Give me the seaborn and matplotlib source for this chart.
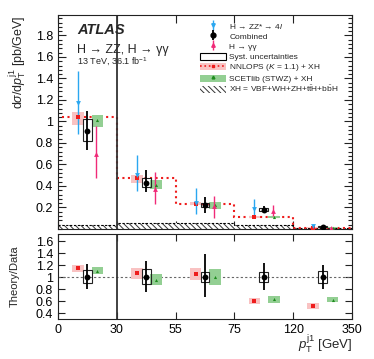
import numpy as np
import pandas as pd
import matplotlib
matplotlib.use("Agg")
import matplotlib.pyplot as plt
from matplotlib.lines import Line2D
from matplotlib.patches import Patch, Rectangle
from matplotlib.legend_handler import HandlerPatch
from matplotlib.ticker import MultipleLocator, FormatStrFormatter
import seaborn as sns

# bins (drawn with equal width)
bin_edges_label = ["0", "30", "55", "75", "120", "350"]

# main panel: dsigma/dpT [pb/GeV]
comb_val = [0.91, 0.43, 0.22, 0.18, 0.02]
comb_lo = [0.73, 0.34, 0.15, 0.15, 0.012]
comb_hi = [1.10, 0.55, 0.30, 0.21, 0.03]
comb_syst_lo = [0.82, 0.39, 0.20, 0.17, 0.015]
comb_syst_hi = [1.02, 0.47, 0.245, 0.195, 0.025]

zz_val = [1.17, 0.50, 0.24, 0.19, 0.03]
zz_lo = [0.88, 0.35, 0.14, 0.12, 0.015]
zz_hi = [1.47, 0.69, 0.38, 0.28, 0.04]

yy_val = [0.70, 0.37, 0.21, 0.165, 0.012]
yy_lo = [0.47, 0.23, 0.10, 0.12, 0.004]
yy_hi = [0.96, 0.53, 0.31, 0.22, 0.02]

nnlops_val = [1.04, 0.47, 0.235, 0.11, 0.01]
nnlops_lo = [0.97, 0.43, 0.22, 0.10, 0.005]
nnlops_hi = [1.09, 0.50, 0.25, 0.12, 0.015]

scet_val = [1.01, 0.41, 0.22, 0.11, 0.012]
scet_lo = [0.95, 0.37, 0.19, 0.10, 0.008]
scet_hi = [1.06, 0.46, 0.25, 0.125, 0.016]

xh_val = [0.035, 0.06, 0.055, 0.036, 0.008]

# ratio panel: theory / data
r_comb_lo = [0.80, 0.75, 0.66, 0.78, 0.80]
r_comb_hi = [1.22, 1.27, 1.38, 1.23, 1.21]
r_syst_lo = [0.90, 0.88, 0.91, 0.92, 0.90]
r_syst_hi = [1.12, 1.14, 1.09, 1.08, 1.10]
r_nnlops_val = [1.145, 1.07, 1.06, 0.60, 0.52]
r_nnlops_lo = [1.08, 0.97, 0.95, 0.55, 0.47]
r_nnlops_hi = [1.21, 1.16, 1.16, 0.65, 0.57]
r_scet_val = [1.105, 0.95, 1.00, 0.63, 0.62]
r_scet_lo = [1.05, 0.86, 0.86, 0.57, 0.58]
r_scet_hi = [1.17, 1.05, 1.14, 0.69, 0.66]

C_ZZ = "#2aa7f0"
C_YY = "#f02a78"
C_RED = "#ee1c1c"
C_REDBOX = "#f9c2c2"
C_GRN = "#1e8c1e"
C_GRNBOX = "#93cf93"

sns.set_style("ticks")
plt.rcParams["font.family"] = ["Liberation Sans", "DejaVu Sans"]
plt.rcParams["mathtext.fontset"] = "custom"
plt.rcParams["mathtext.rm"] = "Liberation Sans"
plt.rcParams["mathtext.it"] = "Liberation Sans:italic"
plt.rcParams["hatch.linewidth"] = 0.7

nb = len(comb_val)
centers = np.arange(nb) + 0.5
edges = np.arange(nb + 1)
off_l, off_r, off_g = -0.16, 0.15, 0.17

df = pd.DataFrame({
    "x": centers, "comb": comb_val, "zz": zz_val, "yy": yy_val,
    "nnlops": nnlops_val, "scet": scet_val,
    "r_nnlops": r_nnlops_val, "r_scet": r_scet_val,
})

fig = plt.figure(figsize=(3.74, 3.59), dpi=100)
W, H = 374, 359
ax1 = fig.add_axes([58 / W, 1 - 229 / H, 294 / W, 214 / H])
ax2 = fig.add_axes([58 / W, 1 - 319 / H, 294 / W, 85 / H])

# ---------------- main panel ----------------
ax1.bar(centers, xh_val, width=1, color="white", edgecolor="#333333",
        hatch="\\\\\\\\\\\\", linewidth=0, zorder=1)
ax1.stairs(xh_val, edges, color="black", ls=(0, (2, 1.5)), lw=0.8, zorder=2)
ax1.stairs(nnlops_val, edges, color=C_RED, ls=":", lw=1.5, zorder=2)

box_w = 0.2
ax1.bar(centers + off_l, np.subtract(nnlops_hi, nnlops_lo), bottom=nnlops_lo,
        width=box_w, color=C_REDBOX, lw=0, zorder=3)
ax1.bar(centers + off_g, np.subtract(scet_hi, scet_lo), bottom=scet_lo,
        width=box_w, color=C_GRNBOX, lw=0, zorder=3)
ax1.bar(centers, np.subtract(comb_syst_hi, comb_syst_lo), bottom=comb_syst_lo,
        width=0.15, facecolor="none", edgecolor="#222222", lw=0.8, zorder=5)

ax1.errorbar(centers + off_l, zz_val,
             yerr=[np.subtract(zz_val, zz_lo), np.subtract(zz_hi, zz_val)],
             fmt="none", ecolor=C_ZZ, elinewidth=1.0, zorder=4)
ax1.errorbar(centers + off_r, yy_val,
             yerr=[np.subtract(yy_val, yy_lo), np.subtract(yy_hi, yy_val)],
             fmt="none", ecolor=C_YY, elinewidth=1.0, zorder=4)
ax1.errorbar(centers, comb_val,
             yerr=[np.subtract(comb_val, comb_lo), np.subtract(comb_hi, comb_val)],
             fmt="none", ecolor="black", elinewidth=1.3, zorder=6)

sns.scatterplot(x=df["x"] + off_l, y=df["nnlops"], marker="s", s=6, color=C_RED,
                linewidth=0, ax=ax1, zorder=4, legend=False)
sns.scatterplot(x=df["x"] + off_g, y=df["scet"], marker="^", s=5, color=C_GRN,
                linewidth=0, ax=ax1, zorder=4, legend=False)
sns.scatterplot(x=df["x"] + off_l, y=df["zz"], marker="v", s=12, color=C_ZZ,
                linewidth=0, ax=ax1, zorder=5, legend=False)
sns.scatterplot(x=df["x"] + off_r, y=df["yy"], marker="^", s=12, color=C_YY,
                linewidth=0, ax=ax1, zorder=5, legend=False)
sns.scatterplot(x=df["x"], y=df["comb"], marker="o", s=18, color="black",
                linewidth=0, ax=ax1, zorder=7, legend=False)

ax1.axvline(1, color="#333333", lw=1.3, zorder=2)
ax1.set_xlim(0, nb)
ax1.set_ylim(0, 1.99)
ax1.set_xticks(edges)
ax1.set_xticklabels([])
ax1.yaxis.set_minor_locator(MultipleLocator(0.04))
ax1.set_yticks([0.2, 0.4, 0.6, 0.8, 1.0, 1.2, 1.4, 1.6, 1.8])
ax1.yaxis.set_major_formatter(FormatStrFormatter("%g"))
ax1.set_xlabel("")
ax1.set_ylabel(r"d$\sigma$/d$p_{\mathrm{T}}^{\mathrm{j1}}$ [pb/GeV]", fontsize=9, loc="top")
ax1.yaxis.set_label_coords(-0.10, 1.0)

ax1.text(0.065, 0.93, "ATLAS", transform=ax1.transAxes, fontsize=10.5,
         fontweight="bold", fontstyle="italic", va="center")
ax1.text(0.065, 0.836, "H → ZZ, H → γγ",
         transform=ax1.transAxes, fontsize=9, va="center")
ax1.text(0.065, 0.78, r"13 TeV, 36.1 fb$^{-1}$", transform=ax1.transAxes,
         fontsize=6.5, va="center")


def small_box(legend, orig_handle, xdescent, ydescent, width, height, fontsize):
    # legend boxes a bit shorter than the row
    return Rectangle((-xdescent, -ydescent + 0.17 * height), width, 0.66 * height)


h_zz = (Line2D([], [], color=C_ZZ, marker="|", ms=7, ls="none", mew=1),
        Line2D([], [], color=C_ZZ, marker="v", ms=2.5, ls="none"))
h_comb = (Line2D([], [], color="black", marker="|", ms=7, ls="none", mew=1.3),
          Line2D([], [], color="black", marker="o", ms=3.5, ls="none"))
h_yy = (Line2D([], [], color=C_YY, marker="|", ms=7, ls="none", mew=1),
        Line2D([], [], color=C_YY, marker="^", ms=2.5, ls="none"))
h_syst = Patch(facecolor="white", edgecolor="black", lw=0.8)
h_nnlops = (Patch(facecolor=C_REDBOX, lw=0),
            Line2D([], [], color=C_RED, ls=":", lw=1.2),
            Line2D([], [], color=C_RED, marker="s", ms=2, ls="none"))
h_scet = (Patch(facecolor=C_GRNBOX, lw=0),
          Line2D([], [], color=C_GRN, marker="^", ms=2, ls="none"))
h_xh = Patch(facecolor="white", edgecolor="#333333", hatch="\\\\\\\\\\\\", lw=0)
labels = ["H → ZZ* → 4$l$", "Combined", "H → γγ", "Syst. uncertainties",
          r"NNLOPS ($K$ = 1.1) + XH", "SCETlib (STWZ) + XH",
          r"XH = VBF+WH+ZH+t$\bar{\mathrm{t}}$H+b$\bar{\mathrm{b}}$H"]
ax1.legend([h_zz, h_comb, h_yy, h_syst, h_nnlops, h_scet, h_xh], labels,
           loc="upper left", bbox_to_anchor=(0.482, 0.972), frameon=False,
           fontsize=6, labelspacing=0.0, handlelength=3.1, handleheight=1.5,
           handletextpad=0.45, borderaxespad=0, borderpad=0,
           handler_map={Patch: HandlerPatch(patch_func=small_box)})

# ---------------- ratio panel ----------------
ax2.axhline(1, color="#666666", ls=(0, (2, 2)), lw=0.8, zorder=1)
ax2.bar(centers + off_l, np.subtract(r_nnlops_hi, r_nnlops_lo), bottom=r_nnlops_lo,
        width=box_w, color=C_REDBOX, lw=0, zorder=3)
ax2.bar(centers + off_g, np.subtract(r_scet_hi, r_scet_lo), bottom=r_scet_lo,
        width=box_w, color=C_GRNBOX, lw=0, zorder=3)
ax2.bar(centers, np.subtract(r_syst_hi, r_syst_lo), bottom=r_syst_lo,
        width=0.15, facecolor="none", edgecolor="#222222", lw=0.8, zorder=5)
ax2.errorbar(centers, np.ones(nb),
             yerr=[1 - np.array(r_comb_lo), np.array(r_comb_hi) - 1],
             fmt="none", ecolor="black", elinewidth=1.3, zorder=6)
sns.scatterplot(x=df["x"] + off_l, y=df["r_nnlops"], marker="s", s=6, color=C_RED,
                linewidth=0, ax=ax2, zorder=4, legend=False)
sns.scatterplot(x=df["x"] + off_g, y=df["r_scet"], marker="^", s=5, color=C_GRN,
                linewidth=0, ax=ax2, zorder=4, legend=False)
sns.scatterplot(x=df["x"], y=np.ones(nb), marker="o", s=18, color="black",
                linewidth=0, ax=ax2, zorder=7, legend=False)
ax2.axvline(1, color="#333333", lw=1.3, zorder=2)
ax2.set_xlim(0, nb)
ax2.set_ylim(0.3, 1.72)
ax2.set_xticks(edges)
ax2.set_xticklabels(bin_edges_label)
ax2.set_yticks([0.4, 0.6, 0.8, 1.0, 1.2, 1.4, 1.6])
ax2.yaxis.set_major_formatter(FormatStrFormatter("%g"))
ax2.set_ylabel("Theory/Data", fontsize=8)
ax2.yaxis.set_label_coords(-0.13, 0.5)
ax2.set_xlabel(r"$p_{\mathrm{T}}^{\mathrm{j1}}$ [GeV]", fontsize=9.5, ha="right")
ax2.xaxis.set_label_coords(1.0, -0.17)

for ax in (ax1, ax2):
    ax.tick_params(direction="in", which="both", top=True, right=True,
                   labelsize=9, width=0.8, colors="#222222", labelcolor="black")
    ax.tick_params(which="major", length=6)
    ax.tick_params(which="minor", length=3)
    for s in ax.spines.values():
        s.set_linewidth(0.8)
        s.set_color("#222222")
ax2.tick_params(which="major", length=5)

fig.savefig("out.png", dpi=100)
